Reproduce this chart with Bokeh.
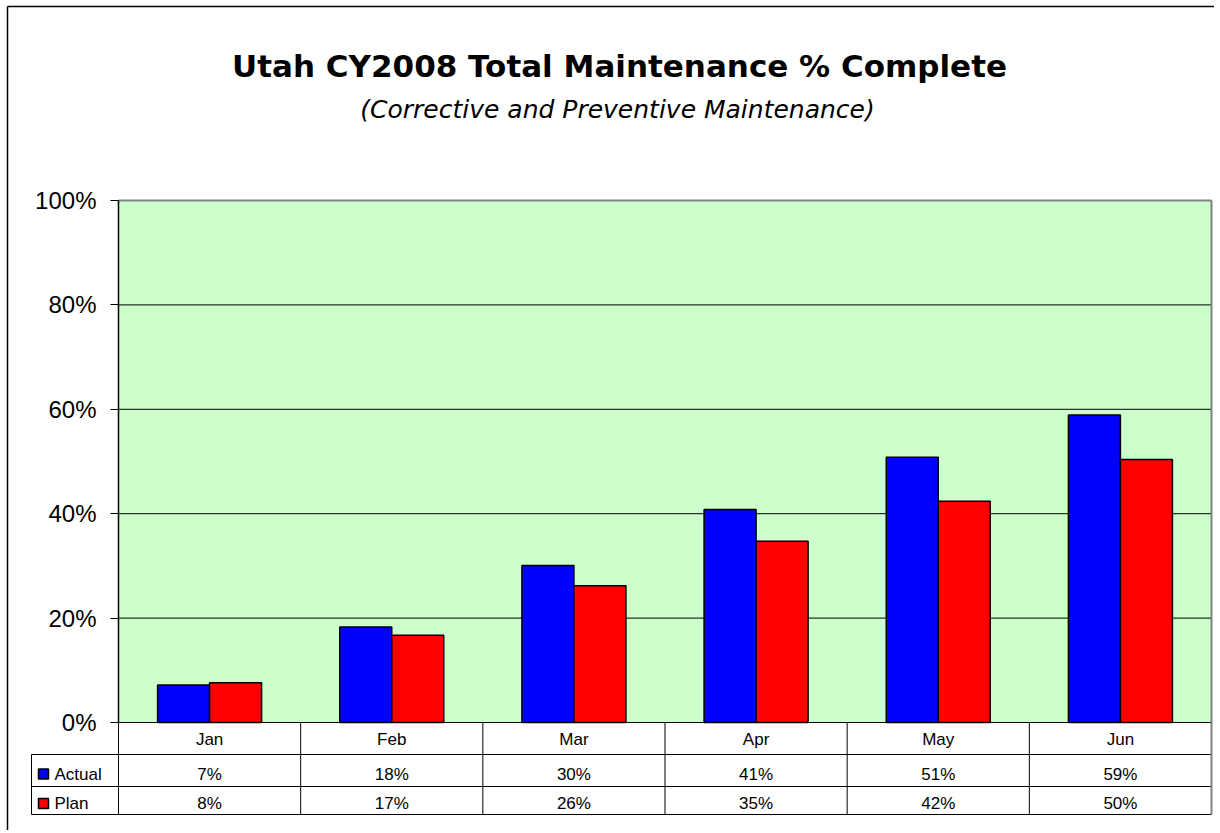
import numpy as np
from bokeh.plotting import figure
from bokeh.models import ColumnDataSource, Range1d, FixedTicker, NumeralTickFormatter, Label
from bokeh.core.properties import value
from bokeh.embed import file_html
from bokeh.resources import INLINE

# ---------------- data ----------------
months = ["Jan", "Feb", "Mar", "Apr", "May", "Jun"]
actual = [0.072, 0.183, 0.301, 0.408, 0.508, 0.589]
plan = [0.076, 0.167, 0.262, 0.347, 0.424, 0.504]
series_names = ["Actual", "Plan"]
series_colors = ["#0000FF", "#FF0000"]
y_ticks = [0.0, 0.2, 0.4, 0.6, 0.8, 1.0]
title_text = "Utah CY2008 Total Maintenance % Complete"
subtitle_text = "(Corrective and Preventive Maintenance)"

# ---------------- layout (page pixels) ----------------
PAGE_X0, PAGE_Y0 = 0, 0          # canvas origin on the page
W, H = 1214, 830
AXIS_X, RIGHT_X = 118, 1211       # plot area left / right
ZERO_Y, TOP_Y = 722, 200          # 0% and 100%
TABLE_LEFT_X = 31
ROW_LINES_Y = [754, 786, 814]     # table row bottoms
MONTH_MID_Y = 738.5
SERIES_MID_Y = [773.5, 803]
LEG_BOX_X = 43
LEG_TEXT_X = 54
TITLE_X, TITLE_MID_Y = 619, 65
SUB_X, SUB_MID_Y = 617, 108.5
BORDER_X, BORDER_Y = 7, 6
BAR_PX = 52

n = len(months)
cat_px = (RIGHT_X - AXIS_X) / n
unit_px = ZERO_Y - TOP_Y


def dx(px):
    return (px - AXIS_X) / cat_px


def dy(py):
    return (ZERO_Y - py) / unit_px


p = figure(width=W, height=H,
           x_range=Range1d(dx(PAGE_X0), dx(PAGE_X0 + W)),
           y_range=Range1d(dy(PAGE_Y0 + H), dy(PAGE_Y0)),
           output_backend="svg", toolbar_location=None,
           x_axis_location=None,
           min_border=0, min_border_left=0, min_border_right=0,
           min_border_top=0, min_border_bottom=0,
           background_fill_color="white", border_fill_color="white",
           outline_line_color=None)
p.xgrid.visible = False
p.ygrid.visible = False

# outer chart border (left / top visible)
p.segment(x0=[dx(BORDER_X), dx(BORDER_X)], x1=[dx(PAGE_X0 + W + 10), dx(BORDER_X)],
          y0=[dy(BORDER_Y), dy(BORDER_Y)], y1=[dy(BORDER_Y), dy(PAGE_Y0 + H + 10)],
          line_color="#000000", line_width=1.5)

# plot area background
p.quad(left=[0], right=[n], bottom=[0], top=[1], fill_color="#CCFFCC", line_color=None)

# gridlines
grid_vals = [t for t in y_ticks if 0 < t < 1]
p.segment(x0=[0] * len(grid_vals), x1=[n] * len(grid_vals), y0=grid_vals, y1=grid_vals,
          line_color="#000000", line_width=1)

# plot area border (top/right)
p.segment(x0=[0, n], x1=[n, n], y0=[1, 1], y1=[1, 0], line_color="#808080", line_width=2)

# bars
bw = BAR_PX / cat_px
centers = np.arange(n) + 0.5
src = ColumnDataSource(dict(month=months, xa=centers - bw / 2, xp=centers + bw / 2,
                            actual=actual, plan=plan))
p.vbar(x="xa", top="actual", bottom=0, width=bw, source=src,
       fill_color=series_colors[0], line_color="#000000", line_width=1.5)
p.vbar(x="xp", top="plan", bottom=0, width=bw, source=src,
       fill_color=series_colors[1], line_color="#000000", line_width=1.5)

# y axis
ax = p.yaxis[0]
ax.fixed_location = 0
ax.bounds = (0, 1)
ax.ticker = FixedTicker(ticks=y_ticks)
ax.formatter = NumeralTickFormatter(format="0%")
ax.minor_tick_line_color = None
ax.major_tick_out = 8
ax.major_tick_in = 0
ax.major_tick_line_color = "#000000"
ax.axis_line_color = "#000000"
ax.axis_line_width = 1.5
ax.major_label_standoff = 14
ax.major_label_text_font = "Liberation Sans"
ax.major_label_text_font_size = "24px"
ax.major_label_text_color = "#000000"

# ---------------- data table ----------------
row_y = [dy(v) for v in ROW_LINES_Y]
xl = dx(TABLE_LEFT_X)
# horizontal lines
p.segment(x0=[0, xl, xl, xl], x1=[n, n, n, n], y0=[0] + row_y, y1=[0] + row_y,
          line_color="#000000", line_width=1)
# vertical lines
p.segment(x0=list(range(n)), x1=list(range(n)), y0=[0] * n, y1=[row_y[-1]] * n,
          line_color="#000000", line_width=1)
p.segment(x0=[xl], x1=[xl], y0=[row_y[0]], y1=[row_y[-1]], line_color="#000000", line_width=1)
p.segment(x0=[n], x1=[n], y0=[0], y1=[row_y[-1]], line_color="#808080", line_width=2)

font = value("Liberation Sans")
tsrc = ColumnDataSource(dict(
    x=centers,
    month=months,
    a_lab=[f"{v:.0%}" for v in actual],
    p_lab=[f"{v:.0%}" for v in plan],
))
p.text(x="x", y=dy(MONTH_MID_Y), text="month", source=tsrc, text_font=font,
       text_font_size="17px", text_align="center", text_baseline="middle", text_color="#000000")
p.text(x="x", y=dy(SERIES_MID_Y[0]), text="a_lab", source=tsrc, text_font=font,
       text_font_size="17px", text_align="center", text_baseline="middle", text_color="#000000")
p.text(x="x", y=dy(SERIES_MID_Y[1]), text="p_lab", source=tsrc, text_font=font,
       text_font_size="17px", text_align="center", text_baseline="middle", text_color="#000000")

# legend keys in table
p.rect(x=[dx(LEG_BOX_X)] * 2, y=[dy(v) for v in SERIES_MID_Y], width=10, height=10,
       width_units="screen", height_units="screen",
       fill_color=series_colors, line_color="#000000", line_width=1.5)
p.text(x=[dx(LEG_TEXT_X)] * 2, y=[dy(v) for v in SERIES_MID_Y], text=series_names,
       text_font=font, text_font_size="17px", text_align="left", text_baseline="middle",
       text_color="#000000")

# ---------------- titles ----------------
p.add_layout(Label(x=dx(TITLE_X), y=dy(TITLE_MID_Y), text=title_text,
                   text_font="DejaVu Sans", text_font_style="bold", text_font_size="31px",
                   text_align="center", text_baseline="middle", text_color="#000000"))
p.add_layout(Label(x=dx(SUB_X), y=dy(SUB_MID_Y), text=subtitle_text,
                   text_font="DejaVu Sans", text_font_style="italic", text_font_size="25px",
                   text_align="center", text_baseline="middle", text_color="#000000"))

open("out.html", "w").write(file_html(p, INLINE))
